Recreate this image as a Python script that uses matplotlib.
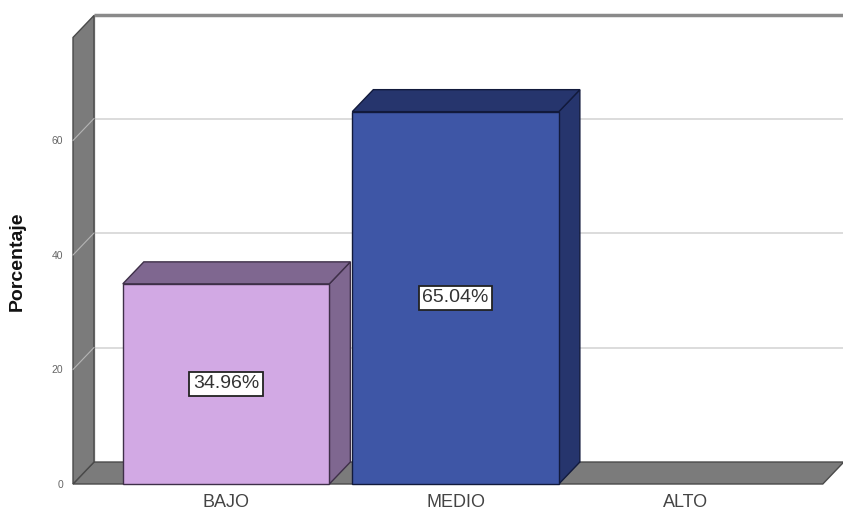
import matplotlib
matplotlib.use("Agg")
import matplotlib.pyplot as plt
from matplotlib.patches import Polygon, Rectangle

plt.rcParams['font.family'] = ['Liberation Sans', 'DejaVu Sans']

# ---- data ----
categories = ["BAJO", "MEDIO", "ALTO"]
percentages = [34.96, 65.04, 0.0]
labels = ["34.96%", "65.04%", None]
yticks = [0, 20, 40, 60]
ylabel = "Porcentaje"

# ---- style ----
face_colors = ["#d2a9e4", "#3e56a6"]
dark_colors = ["#7f6790", "#26356d"]
edge_colors = ["#3e2f48", "#121a3c"]
wall_color = "#7b7b7b"
wall_edge = "#4a4a4a"

W, H = 843, 514
fig = plt.figure(figsize=(W / 100, H / 100), dpi=100)
ax_left_px, ax_right_px, ax_bottom_px, ax_top_px = 73, 843, 484, 15
ax = fig.add_axes([ax_left_px / W, (H - ax_bottom_px) / H,
                   (ax_right_px - ax_left_px) / W, (ax_bottom_px - ax_top_px) / H])

XMIN, XMAX = -0.667, 2.688
YMAX = 81.92
ax.set_xlim(XMIN, XMAX)
ax.set_ylim(0, YMAX)

DX, DY = 0.0915, 3.84       # depth offset (data units)
WALL_TOP = 78.0
FLOOR_RIGHT = 2.60
BAR_W = 0.9

def P(pts, **kw):
    kw.setdefault("clip_on", False)
    ax.add_patch(Polygon(pts, closed=True, **kw))

# back wall
bx0 = XMIN + DX
P([(bx0, DY), (XMAX + 0.2, DY), (XMAX + 0.2, WALL_TOP + DY), (bx0, WALL_TOP + DY)],
  facecolor="white", edgecolor="none", zorder=1)
# grid lines on back wall
for t in yticks[1:]:
    ax.plot([bx0, XMAX + 0.2], [t + DY, t + DY], color="#dcdcdc", lw=1.4, zorder=2,
            clip_on=False, solid_capstyle="butt")
    ax.plot([XMIN, bx0], [t, t + DY], color="#b5b5b5", lw=0.8, zorder=6, clip_on=False)
# top border of back wall
ax.plot([bx0, XMAX + 0.2], [WALL_TOP + DY, WALL_TOP + DY], color="#8a8a8a", lw=2.5,
        zorder=2, clip_on=False, solid_capstyle="butt")
ax.plot([bx0, bx0], [DY, WALL_TOP + DY], color="#9a9a9a", lw=1.0, zorder=2, clip_on=False)

# floor
P([(XMIN, 0), (FLOOR_RIGHT, 0), (FLOOR_RIGHT + DX, DY), (XMIN + DX, DY)],
  facecolor=wall_color, edgecolor=wall_edge, lw=1.0, zorder=3)
# left wall
P([(XMIN, 0), (XMIN, WALL_TOP), (XMIN + DX, WALL_TOP + DY), (XMIN + DX, DY)],
  facecolor=wall_color, edgecolor=wall_edge, lw=1.0, zorder=5)

# bars
for i, v in enumerate(percentages):
    if v <= 0:
        continue
    l, r = i - BAR_W / 2, i + BAR_W / 2
    fc, dc, ec = face_colors[i], dark_colors[i], edge_colors[i]
    # side
    P([(r, 0), (r, v), (r + DX, v + DY), (r + DX, DY)], facecolor=dc, edgecolor=ec,
      lw=1.0, zorder=7)
    # top
    P([(l, v), (r, v), (r + DX, v + DY), (l + DX, v + DY)], facecolor=dc, edgecolor=ec,
      lw=1.0, zorder=7)
    # front
    ax.add_patch(Rectangle((l, 0), BAR_W, v, facecolor=fc, edgecolor=ec, lw=1.0,
                           zorder=8, clip_on=False))
    if labels[i]:
        ax.text(i, v / 2, labels[i], ha="center", va="center", fontsize=14,
                color="#333333", zorder=9,
                bbox=dict(boxstyle="square,pad=0.18", facecolor="white",
                          edgecolor="#222222", lw=1.3))

# axes / ticks
for s in ax.spines.values():
    s.set_visible(False)
ax.set_xticks(range(len(categories)))
ax.set_xticklabels(categories, fontsize=13, color="#444444")
ax.tick_params(axis="x", length=0, pad=7)
ax.set_yticks(yticks)
ax.set_yticklabels([str(t) for t in yticks], fontsize=7.5, color="#666666")
ax.tick_params(axis="y", length=0, pad=7)
ax.set_ylabel(ylabel, fontsize=14, fontweight="bold", color="#111111")
ax.yaxis.set_label_coords(-0.061, 0.475)
ax.set_facecolor("none")

fig.savefig("out.png", dpi=100, facecolor="white")
